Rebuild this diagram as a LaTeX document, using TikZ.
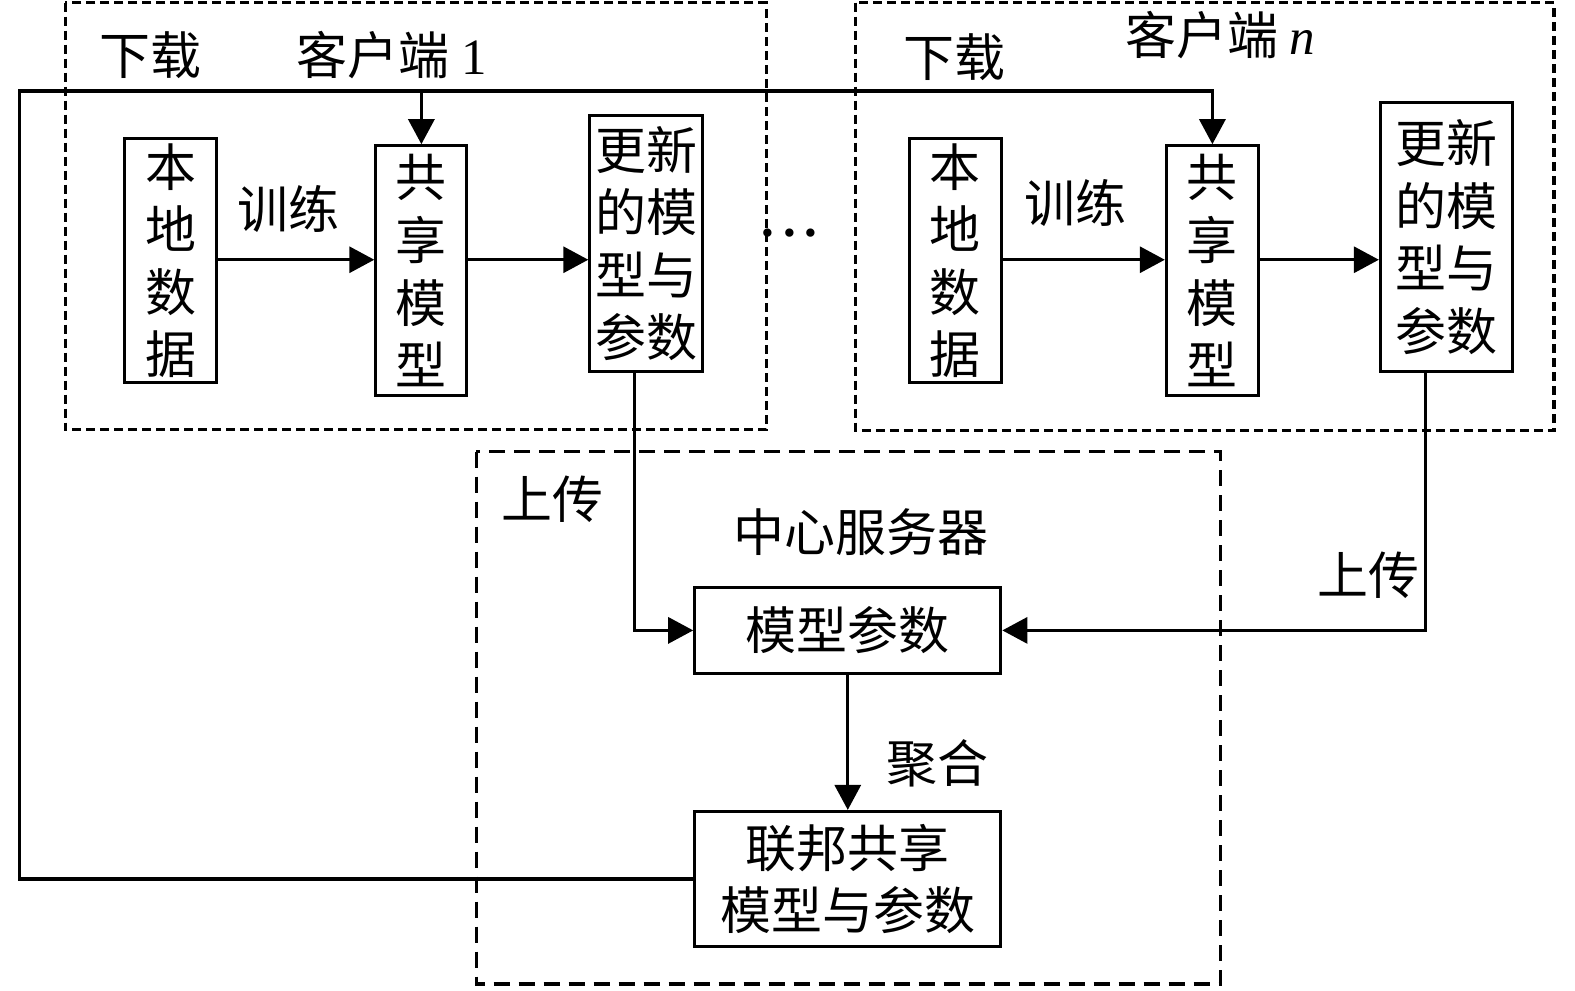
\documentclass[tikz,border=0pt]{standalone}
\usepackage{fontspec}
\setmainfont{Liberation Serif}
\newfontfamily\cjk{Noto Sans CJK SC}
\usetikzlibrary{arrows.meta}
\begin{document}
\begin{tikzpicture}[x=1.0045cm,y=1.0045cm,box/.style={draw,line width=.9pt,inner sep=0pt,align=center},
lbl/.style={inner sep=0pt},arr/.style={line width=.9pt,-{Triangle[length=2.5mm,width=2.6mm]}},
dsh/.style={line width=.9pt,dash pattern=on .9mm off .5mm},
every node/.style={font=\cjk\fontsize{14.5}{17.8}\selectfont}]
\useasboundingbox(0,.04)rectangle(15.68,9.896);
\draw[dsh](.65,9.87)rectangle(7.63,5.62);\draw[dsh](8.52,9.87)rectangle(15.47,5.61);
\draw[line width=.9pt,dash pattern=on 1.6mm off .9mm](4.74,5.40)rectangle(12.15,.1);
\node[box,minimum width=.92cm,minimum height=2.44cm](dat1)at(1.70,7.30){本\\地\\数\\据};
\node[box,minimum width=.91cm,minimum height=2.50cm](shr1)at(4.195,7.20){共\\享\\模\\型};
\node[box,minimum width=1.13cm,minimum height=2.56cm](upd1)at(6.435,7.47){更新\\的模\\型与\\参数};
\node[box,minimum width=.92cm,minimum height=2.44cm](datn)at(9.51,7.30){本\\地\\数\\据};
\node[box,minimum width=.92cm,minimum height=2.50cm](shrn)at(12.07,7.20){共\\享\\模\\型};
\node[box,minimum width=1.32cm,minimum height=2.69cm](updn)at(14.40,7.535){更新\\的模\\型与\\参数};
\node[box,minimum width=3.06cm,minimum height=.86cm](par)at(8.44,3.62){模型参数};
\node[box,minimum width=3.06cm,minimum height=1.35cm](fed)at(8.44,1.145){联邦共享\\模型与参数};
\node[lbl](dl1)at(1.50,9.35){下载};\node[lbl](cl1)at(3.90,9.35){客户端 {\rmfamily 1}};
\node[lbl](dln)at(9.50,9.33){下载};\node[lbl](cln)at(12.15,9.55){客户端 {\rmfamily\itshape n}};
\node[lbl](tr1)at(2.87,7.82){训练};\node[lbl](trn)at(10.71,7.88){训练};
\node[lbl](dots)at(7.86,7.58){\rmfamily\bfseries .\,.\,.};
\node[lbl](up1)at(5.50,4.93){上传};\node[lbl](upn)at(13.62,4.17){上传};
\node[lbl](srv)at(8.57,4.60){中心服务器};\node[lbl](agg)at(9.33,2.30){聚合};
\coordinate(top)at(.19,8.99);\coordinate(mid)at(0,7.31);
\draw[arr](dat1.east|-mid)--(shr1.west|-mid);\draw[arr](shr1.east|-mid)--(upd1.west|-mid);
\draw[arr](datn.east|-mid)--(shrn.west|-mid);\draw[arr](shrn.east|-mid)--(updn.west|-mid);
\draw[arr]([xshift=-1.15mm]upd1.south)|-(par.west);\draw[arr]([xshift=-2.1mm]updn.south)|-(par.east);
\draw[arr](par)--(fed);
\draw[arr](fed.west)-|(top)-|(shrn.north);\draw[arr](shr1.north|-top)--(shr1.north);
\end{tikzpicture}
\end{document}
